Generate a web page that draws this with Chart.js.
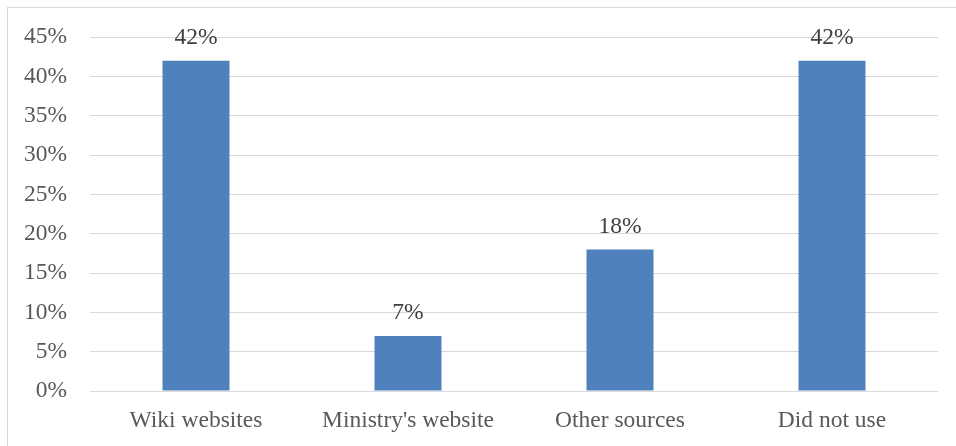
<!DOCTYPE html>
<html><head><meta charset="utf-8">
<script src="https://cdn.jsdelivr.net/npm/chart.js@4/dist/chart.umd.min.js"></script>
<style>html,body{margin:0;padding:0;background:#fff;}canvas{display:block;}</style>
</head><body>
<canvas id="c" width="956" height="446"></canvas>
<script>
const categories = ["Wiki websites", "Ministry's website", "Other sources", "Did not use"];
const values = [42, 7, 18, 42];
const yTicks = [0, 5, 10, 15, 20, 25, 30, 35, 40, 45];

const FONT = "'Liberation Serif', 'Times New Roman', serif";
const TXT = '#595959';
const FS = 23.5;

const borderPlugin = {
  id: 'outerBorder',
  beforeDraw(chart) {
    const ctx = chart.ctx;
    ctx.save();
    ctx.fillStyle = '#fff';
    ctx.fillRect(0, 0, chart.width, chart.height);
    ctx.strokeStyle = '#d9d9d9';
    ctx.lineWidth = 1;
    ctx.strokeRect(7.5, 7.5, 960, 460);
    ctx.restore();
  }
};
const labelPlugin = {
  id: 'valueLabels',
  afterDatasetsDraw(chart) {
    const ctx = chart.ctx;
    const meta = chart.getDatasetMeta(0);
    ctx.save();
    ctx.font = FS + 'px ' + FONT;
    ctx.fillStyle = '#404040';
    ctx.textAlign = 'center';
    ctx.textBaseline = 'middle';
    meta.data.forEach((bar, i) => {
      ctx.fillText(values[i] + '%', bar.x, bar.y - 23);
    });
    ctx.restore();
  }
};

new Chart(document.getElementById('c'), {
  type: 'bar',
  data: {
    labels: categories,
    datasets: [{
      data: values,
      backgroundColor: '#4f81bd',
      barPercentage: 0.316,
      categoryPercentage: 1.0
    }]
  },
  options: {
    responsive: false,
    animation: false,
    devicePixelRatio: 1,
    layout: { padding: { top: 36, right: 18, left: 0, bottom: 0 } },
    plugins: { legend: { display: false }, tooltip: { enabled: false } },
    scales: {
      x: {
        grid: { display: false, drawTicks: false },
        border: { display: false },
        ticks: { color: TXT, font: { family: FONT, size: FS }, padding: 16, maxRotation: 0 },
        afterFit(s) { s.height = 55; }
      },
      y: {
        min: 0, max: 45,
        afterBuildTicks(s) { s.ticks = yTicks.map(v => ({ value: v })); },
        grid: { color: '#d9d9d9', drawTicks: false },
        border: { display: false },
        ticks: { color: TXT, font: { family: FONT, size: FS }, padding: 23, callback: v => v + '%' },
        afterFit(s) { s.width = 90; }
      }
    }
  },
  plugins: [borderPlugin, labelPlugin]
});
</script>
</body></html>
